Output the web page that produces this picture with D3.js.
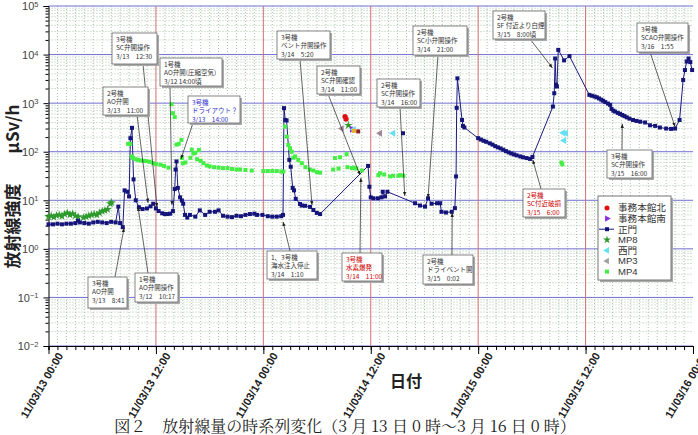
<!DOCTYPE html>
<html>
<head>
<meta charset="utf-8">
<script src="https://cdn.jsdelivr.net/npm/d3@7"></script>
<style>
  body { margin: 0; background: #fff; }
  svg { display: block; font-family: "Liberation Sans", Arial, sans-serif; }
  .note text { font-family: "Noto Sans CJK JP", sans-serif; font-size: 6.5px; fill: #333; }
</style>
</head>
<body>
<svg width="698" height="435"></svg>
<script>
// hours from 2011/03/13 00:00, value in uSv/h
const seiMon = [
  [0.0,3.2],[0.5,3.2],[1.0,3.3],[1.5,3.2],[2.0,3.3],[2.5,3.3],[3.0,3.4],[3.3,3.8],[3.5,3.5],[4.0,3.4],
  [4.5,3.3],[5.0,3.5],[5.5,3.6],[6.0,3.5],[6.5,3.4],[7.0,3.6],[7.5,3.5],[7.8,7.4],[8.0,3.4],[8.3,2.8],
  [8.5,16],[8.8,15],[9.0,12],[9.15,190],[9.33,310],[9.5,27],[9.75,10],[10.1,7.2],[10.5,6.6],[11.0,6.8],
  [11.4,7.5],[11.7,8.5],[12.0,6.8],[12.3,6.0],[12.7,5.4],[13.0,5.2],[13.3,5.2],[13.6,5.3],[13.9,6.0],
  [14.1,17],[14.2,43],[14.3,63],[14.45,18],[14.7,11.5],[14.9,9.9],[15.05,8.5],[15.25,5.0],[15.5,4.4],
  [15.8,5.0],[16.4,4.6],[16.9,6.2],[17.5,5.0],[18.0,5.8],[18.6,5.8],[19.0,6.2],[19.5,4.8],[20.0,4.6],
  [20.5,4.5],[21.0,4.8],[21.5,4.7],[22.0,5.0],[22.5,5.2],[23.0,5.3],[23.3,5.0],[23.9,5.0],[24.5,4.7],
  [25.0,4.6],[25.5,4.6],[26.0,4.7],[26.2,5.0],[26.31,790],[26.45,450],[26.6,440],[26.9,68],[27.06,49],
  [27.28,18],[27.43,16],[27.62,10.7],[28.1,8.4],[28.29,7.8],[28.66,7.7],[29.22,7.3],[29.59,6.3],
  [29.97,5.5],[30.34,5.2],[35.7,51],[35.85,19],[36.0,11.5],[36.3,11],[36.8,11],[37.2,11.5],[37.34,15],
  [37.6,12],[37.86,15],[40.95,8.7],[41.5,7.8],[42.06,7.4],[42.4,11],[42.8,8.5],[43.4,8.7],[43.75,8.7],
  [43.9,5.8],[44.4,5.6],[45.05,5.8],[45.4,6.9],[45.53,31],[45.6,800],[45.68,3240],[46.2,450],[46.3,340],
  [46.46,315],[48.0,190],[48.3,178],[48.6,168],[48.9,160],[49.3,149],[49.6,140],[49.9,130],[50.2,123],
  [50.5,117],[50.8,110],[51.1,103],[51.4,97],[51.7,92],[52.0,88],[52.3,84],[52.7,80],[53.0,77],[53.4,74],
  [53.8,71],[54.06,78],[56.35,850],[56.5,1600],[56.6,8300],[56.7,2400],[56.8,2200],[56.95,12500],
  [57.6,7600],[58.2,9300],[60.42,1480],[60.7,1420],[61.0,1370],[61.25,1320],[61.5,1250],[61.75,1180],
  [61.96,1120],[62.2,1050],[62.5,980],[62.74,920],[62.9,760],[63.1,700],[63.3,670],[63.6,630],[63.85,600],
  [64.1,570],[64.35,540],[64.6,510],[64.9,480],[65.3,450],[65.7,430],[66.1,415],[66.65,400],[67.2,350],
  [67.77,340],[68.3,315],[69.0,300],[69.55,295],[70.0,300],[70.5,450],[70.9,3000],[71.1,4800],
  [71.3,7200],[71.5,8300],[71.7,7000],[71.9,4800]
];
const seiMonLone = [[39.6,240]];
const mp4 = [
  [8.9,145],[9.15,145],[9.3,80],[9.45,74],[9.7,70],[10.0,68],[10.3,66],[10.6,65],[10.9,64],[11.3,62],
  [11.7,58],[12.0,56],[12.5,54],[12.9,51],[13.4,47],[13.75,950],[13.9,620],[14.1,515],[14.3,140],
  [14.55,145],[14.85,175],[14.9,74],[15.0,58],[15.3,60],[15.85,75],[16.0,110],[16.2,92],[16.4,95],
  [16.6,70],[16.8,108],[17.0,65],[17.3,58],[17.7,52],[18.0,50],[18.5,48],[19.0,47],[19.5,46],[20.0,46],
  [20.5,44],[21.0,43],[21.4,43],[22.0,42],[22.7,41],[24.0,40],[24.5,40],[25.0,40],[25.5,40],[26.0,39],
  [26.23,39],[26.42,330],[26.61,205],[26.79,138],[26.98,118],[27.17,100],[27.35,75],[27.55,80],[27.9,68],
  [28.3,58],[28.7,48],[29.2,43],[29.6,41],[30.0,38],[30.34,37],[31.8,43],[32.0,74],[32.4,45],[32.57,77],
  [33.3,89],[33.4,48],[33.9,46],[34.1,47],[34.4,45],[35.0,41],[36.85,33],[37.04,36],[37.5,34],[38.16,31],
  [38.5,32],[39.08,32],[39.3,33],[39.64,32],[57.3,60],[57.4,55]
];
const mp8 = [
  [0.0,4.6],[0.3,4.8],[0.6,4.5],[0.9,4.9],[1.2,5.0],[1.5,4.7],[1.8,5.2],[2.1,5.5],[2.4,5.0],[2.7,5.3],
  [3.0,4.8],[3.3,4.6],[3.9,4.4],[4.2,4.6],[4.5,4.8],[4.8,5.0],[5.1,5.2],[5.4,5.0],[5.7,5.5],[6.0,6.0],
  [6.3,6.2],[6.6,6.5],[6.9,8.5],[7.05,9.0],[33.5,350]
];
const jimuKita = [[33.13,530],[33.24,470]];
const jimuMinami = [[33.9,290]];
const nishiMon = [[34.1,285],[38.5,240],[57.5,245],[57.8,240],[57.6,170]];
const mp3 = [[32.76,300],[37.04,240]];
const extraA = [[34.1,270]];
const extraB = [[34.6,262]];

const legendNames = ["事務本館北", "事務本館南", "正門", "MP8", "西門", "MP3", "MP4"];
const decades = [-2, -1, 0, 1, 2, 3, 4, 5];

const notes = [
  {lines:["3号機","SC弁開操作","3/13　12:30"], box:[112,33,45,31], from:[143,64], to:[12.12,7.3]},
  {lines:["1号機","AO弁開(圧縮空気)","3/12 14:00頃"], box:[160,58,62,28], from:[170,86], to:[13.8,8.0]},
  {lines:["2号機","AO弁開","3/13　11:00"], box:[103,87,45,28], from:[137,115], to:[11.12,8.9]},
  {lines:["3号機","ドライアウト？","3/13　14:00"], box:[188,96,52,27], from:[193,123], to:[14.8,71], color:"#3333cc"},
  {lines:["3号機","AO弁開","3/13　8:41"], box:[88,277,39,31], from:[115,277], to:[8.44,2.7]},
  {lines:["1号機","AO弁開操作","3/12　10:17"], box:[135,273,43,29], from:[148,273], to:[10.0,7.3]},
  {lines:["3号機","ベント弁開操作","3/14　5:20"], box:[277,31,53,28], from:[300,59], to:[29.44,8.0]},
  {lines:["2号機","SC弁開確認","3/14　11:00"], box:[317,66,43,28], from:[328,94], to:[34.8,33]},
  {lines:["1、3号機","海水注入停止","3/14　1:10"], box:[267,251,50,28], from:[290,251], to:[26.2,3.6]},
  {lines:["3号機","水素爆発","3/14　11:00"], box:[342,253,40,28], from:[360,253], to:[34.9,29], color:"#cc0000"},
  {lines:["2号機","SC弁開操作","3/14　16:00"], box:[377,79,43,28], from:[400,107], to:[39.8,12.3]},
  {lines:["2号機","SC小弁開操作","3/14　21:00"], box:[413,26,54,29], from:[438,55], to:[42.4,11.2]},
  {lines:["2号機","ドライベント開","3/15　0:02"], box:[423,255,50,29], from:[452,255], to:[45.1,5.5]},
  {lines:["2号機","SC付近破損","3/15　6:00"], box:[523,189,42,28], from:[541,189], to:[54.1,68], color:"#cc0000"},
  {lines:["2号機","5F 付近より白煙","3/15　8:00頃"], box:[493,11,52,28], from:[530,39], to:[56.3,5300]},
  {lines:["3号機","SC弁開操作","3/15　16:00"], box:[607,150,45,28], from:[622,150], to:[64.1,375]},
  {lines:["3号機","SCAO弁開操作","3/16　1:55"], box:[637,23,51,29], from:[650,52], to:[70.0,325]}
];

const svg = d3.select("svg");
const T0 = new Date(2011, 2, 13, 0, 0);
const toDate = h => new Date(T0.getTime() + h * 3600e3);

const pLeft = 48.5, pRight = 693, pTop = 6, pBottom = 346;
const x = d3.scaleTime().domain([toDate(0), toDate(72)]).range([pLeft, pRight]);
const y = d3.scaleLog().domain([1e-2, 1e5]).range([pBottom, pTop]);
const px = d => x(toDate(d[0]));
const py = d => y(d[1]);

// grid: dotted minor lines
const hours = d3.range(1, 72);
const minors = [];
decades.slice(0, -1).forEach(e => { for (let k = 2; k <= 9; k++) minors.push(k * Math.pow(10, e)); });

const grid = svg.append("g");
grid.append("g").selectAll("line").data(hours.filter(h => h % 12 !== 0)).join("line")
  .attr("x1", h => x(toDate(h))).attr("x2", h => x(toDate(h)))
  .attr("y1", pTop).attr("y2", pBottom)
  .attr("stroke", "#a9c4a9").attr("stroke-dasharray", "1,2");
grid.append("g").selectAll("line").data(minors).join("line")
  .attr("x1", pLeft).attr("x2", pRight)
  .attr("y1", v => y(v)).attr("y2", v => y(v))
  .attr("stroke", "#a9c4a9").attr("stroke-dasharray", "1,2");
grid.append("g").selectAll("line").data(decades).join("line")
  .attr("x1", pLeft).attr("x2", pRight)
  .attr("y1", e => y(Math.pow(10, e))).attr("y2", e => y(Math.pow(10, e)))
  .attr("stroke", "#7070d0").attr("stroke-width", 1);
grid.append("g").selectAll("line").data([12, 24, 36, 48, 60]).join("line")
  .attr("x1", h => x(toDate(h))).attr("x2", h => x(toDate(h)))
  .attr("y1", pTop).attr("y2", pBottom)
  .attr("stroke", "#d07070").attr("stroke-width", 1);

// axes
svg.append("g").attr("transform", `translate(${pLeft},0)`)
  .call(d3.axisLeft(y).tickValues(minors).tickSize(3).tickFormat(""))
  .call(g => g.select(".domain").remove());
const yAxis = svg.append("g").attr("transform", `translate(${pLeft},0)`)
  .call(d3.axisLeft(y).tickValues(decades.map(e => Math.pow(10, e))).tickSize(5).tickFormat(""));
yAxis.selectAll(".tick").each(function(v) {
  const e = Math.round(Math.log10(v));
  const t = d3.select(this).append("text").attr("x", -10).attr("dy", "0.35em")
    .attr("text-anchor", "end").attr("fill", "#444").attr("font-size", 11);
  t.append("tspan").text("10");
  t.append("tspan").attr("dy", "-0.45em").attr("font-size", 7.5).text(e < 0 ? "−" + (-e) : e);
});

svg.append("g").attr("transform", `translate(0,${pBottom})`)
  .call(d3.axisBottom(x).ticks(d3.timeHour.every(1)).tickSize(4).tickFormat(""));
svg.append("g").attr("transform", `translate(0,${pBottom})`)
  .call(d3.axisBottom(x).ticks(d3.timeHour.every(12)).tickSize(8)
    .tickFormat(d3.timeFormat("%y/%m/%d %H:%M")))
  .call(g => g.select(".domain").remove())
  .selectAll("text")
  .attr("font-size", 11).attr("font-weight", "bold").attr("fill", "#222")
  .attr("text-anchor", "end").attr("dy", 0)
  .attr("transform", "translate(5,4) rotate(-60)");
svg.selectAll(".tick line").attr("stroke", "#000");
svg.selectAll(".domain").attr("stroke", "#000");

// axis titles
const yTitle = svg.append("g").attr("font-family", "Noto Sans CJK JP, sans-serif")
  .attr("font-size", 17).attr("font-weight", "bold").attr("fill", "#222").attr("text-anchor", "middle");
yTitle.append("text").attr("transform", "translate(19,226) rotate(-90)").text("放射線強度");
yTitle.append("text").attr("transform", "translate(19,129) rotate(-90)").text("μSv/h");
svg.append("text").attr("x", 406).attr("y", 387).attr("text-anchor", "middle")
  .attr("font-family", "Noto Sans CJK JP, sans-serif").attr("font-size", 16)
  .attr("font-weight", "bold").attr("fill", "#222").text("日付");
svg.append("text").attr("x", 345).attr("y", 432).attr("text-anchor", "middle")
  .attr("font-family", "Noto Serif CJK JP, Noto Sans CJK JP, serif").attr("font-size", 16)
  .attr("fill", "#222").text("図２　放射線量の時系列変化（3 月 13 日 0 時～3 月 16 日 0 時）");

// data
const plot = svg.append("g");
plot.append("path").datum(seiMon)
  .attr("d", d3.line().x(px).y(py))
  .attr("fill", "none").attr("stroke", "#1a1a80").attr("stroke-width", 1);

function squares(data, color, s) {
  plot.append("g").selectAll("rect").data(data).join("rect")
    .attr("x", d => px(d) - s / 2).attr("y", d => py(d) - s / 2)
    .attr("width", s).attr("height", s).attr("fill", color);
}
function symbols(data, type, color, size, rot) {
  plot.append("g").selectAll("path").data(data).join("path")
    .attr("d", d3.symbol().type(type).size(size))
    .attr("transform", d => `translate(${px(d)},${py(d)}) rotate(${rot || 0})`)
    .attr("fill", color);
}
squares(mp4, "#44ee44", 4);
symbols(mp8, d3.symbolStar, "#2e9a2e", 22);
squares(seiMon, "#14147a", 4);
squares(seiMonLone, "#14147a", 4);
symbols(jimuKita, d3.symbolCircle, "#e01010", 22);
symbols(jimuMinami, d3.symbolTriangle, "#8a2be2", 20, 90);
symbols(nishiMon, d3.symbolTriangle, "#66e0f0", 22, -90);
symbols(mp3, d3.symbolTriangle, "#a08898", 20, -90);
symbols(extraA, d3.symbolSquare, "#f0b020", 16);
symbols(extraB, d3.symbolSquare, "#8a2020", 16);

// annotations
svg.append("defs").append("marker").attr("id", "ah")
  .attr("viewBox", "0 0 10 10").attr("refX", 10).attr("refY", 5)
  .attr("markerWidth", 6).attr("markerHeight", 6).attr("orient", "auto")
  .append("path").attr("d", "M0,1L10,5L0,9Z").attr("fill", "#222");

const ng = svg.append("g").attr("class", "note");
notes.forEach(n => {
  const [bx, by, bw, bh] = n.box;
  ng.append("line").attr("x1", n.from[0]).attr("y1", n.from[1])
    .attr("x2", px(n.to)).attr("y2", py(n.to))
    .attr("stroke", "#222").attr("stroke-width", 0.7).attr("marker-end", "url(#ah)");
  ng.append("rect").attr("x", bx + 2).attr("y", by + 2).attr("width", bw).attr("height", bh).attr("fill", "#aaa");
  ng.append("rect").attr("x", bx).attr("y", by).attr("width", bw).attr("height", bh)
    .attr("fill", "#fff").attr("stroke", "#666").attr("stroke-width", 0.8);
  n.lines.forEach((l, i) => {
    ng.append("text").attr("x", bx + 4).attr("y", by + 8.5 + i * 8.7)
      .style("fill", n.color || "#333").text(l);
  });
});

// legend
const lg = svg.append("g").attr("transform", "translate(598,196)");
lg.append("rect").attr("x", 2).attr("y", 2).attr("width", 73).attr("height", 84).attr("fill", "#aaa");
lg.append("rect").attr("width", 73).attr("height", 84).attr("fill", "#fff").attr("stroke", "#777");
const legendSym = [
  g => g.append("path").attr("d", d3.symbol().type(d3.symbolCircle).size(20)).attr("fill", "#e01010"),
  g => g.append("path").attr("d", d3.symbol().type(d3.symbolTriangle).size(18)).attr("transform", "rotate(90)").attr("fill", "#8a2be2"),
  g => { g.append("line").attr("x1", -8).attr("x2", 7).attr("stroke", "#14147a");
         g.append("rect").attr("x", -2).attr("y", -2).attr("width", 4).attr("height", 4).attr("fill", "#14147a"); },
  g => g.append("path").attr("d", d3.symbol().type(d3.symbolStar).size(20)).attr("fill", "#2e9a2e"),
  g => g.append("path").attr("d", d3.symbol().type(d3.symbolTriangle).size(20)).attr("transform", "rotate(-90)").attr("fill", "#66e0f0"),
  g => g.append("path").attr("d", d3.symbol().type(d3.symbolTriangle).size(18)).attr("transform", "rotate(-90)").attr("fill", "#a0a0a0"),
  g => g.append("rect").attr("x", -2).attr("y", -2).attr("width", 4).attr("height", 4).attr("fill", "#44ee44")
];
legendNames.forEach((name, i) => {
  const row = lg.append("g").attr("transform", `translate(9,${12 + i * 10.6})`);
  legendSym[i](row);
  const isMP = name.startsWith("MP");
  row.append("text").attr("x", 11).attr("dy", "0.36em")
    .attr("font-family", isMP ? "Liberation Sans, sans-serif" : "Noto Sans CJK JP, sans-serif")
    .attr("font-size", isMP ? 9.5 : 9.6).attr("fill", "#333").text(name);
});
</script>
</body>
</html>
